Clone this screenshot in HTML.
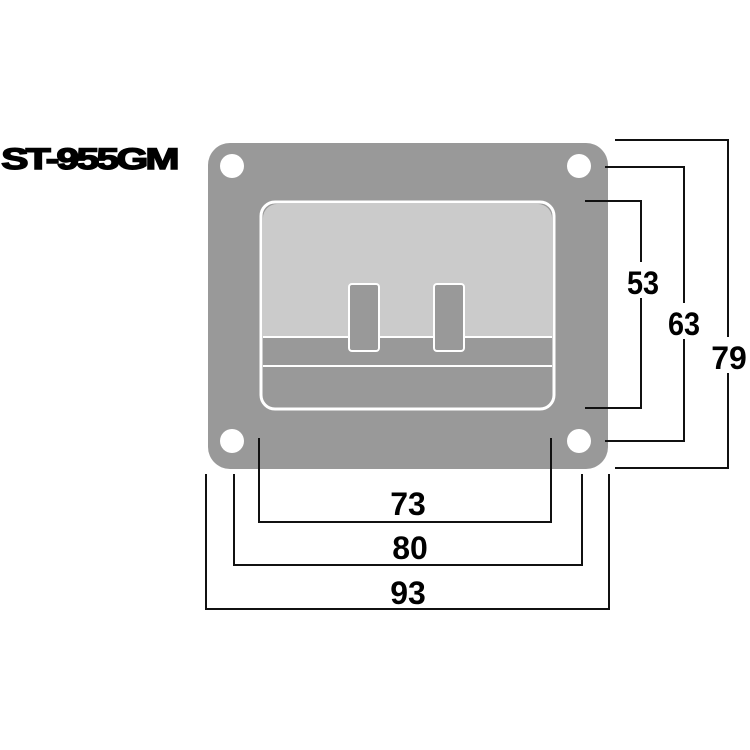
<!DOCTYPE html>
<html><head><style>body{margin:0;background:#fff}svg{display:block}</style></head><body>
<svg width="750" height="750" viewBox="0 0 750 750" xmlns="http://www.w3.org/2000/svg">
<rect x="208" y="143" width="400" height="326" rx="22" fill="#999"/>
<g fill="#fff"><circle cx="232" cy="166" r="12"/><circle cx="579" cy="166" r="12"/><circle cx="232" cy="441" r="12"/><circle cx="579" cy="441" r="12"/></g>
<rect x="261" y="202" width="293" height="207" rx="14" fill="#999" stroke="#fff" stroke-width="3"/>
<path d="M263 337 V218 a14 14 0 0 1 14 -14 H538 a14 14 0 0 1 14 14 V337 Z" fill="#cbcbcb"/>
<line x1="263" y1="337" x2="552" y2="337" stroke="#fff" stroke-width="2"/>
<line x1="263" y1="366" x2="552" y2="366" stroke="#fff" stroke-width="2"/>
<rect x="349" y="284" width="30" height="67" rx="3" fill="#999" stroke="#fff" stroke-width="2"/>
<rect x="434" y="284" width="30" height="67" rx="3" fill="#999" stroke="#fff" stroke-width="2"/>
<g fill="none" stroke="#111" stroke-width="2">
<path d="M585 201 H641 V408 H585"/>
<path d="M605 167 H684 V441 H605"/>
<path d="M615 140 H728 V468 H615"/>
<path d="M259 438 V522 H551 V438"/>
<path d="M234 474 V565 H582 V474"/>
<path d="M206 474 V609 H609 V474"/>
</g>
<g font-family="Liberation Sans, sans-serif" font-weight="bold" font-size="32" fill="#000" text-anchor="middle">
<rect x="622" y="262" width="42" height="36" fill="#fff"/><text x="643" y="294" transform="translate(643 0) scale(0.9 1) translate(-643 0)">53</text>
<rect x="664" y="303" width="40" height="36" fill="#fff"/><text x="684" y="335" transform="translate(684 0) scale(0.9 1) translate(-684 0)">63</text>
<rect x="707" y="337" width="43" height="36" fill="#fff"/><text x="729" y="369">79</text>
<text x="408" y="515">73</text>
<text x="410" y="559">80</text>
<text x="408" y="604">93</text>
<text x="89" y="169" font-size="30" stroke="#000" stroke-width="1.5" transform="translate(89 0) scale(1.36 1) translate(-89 0)" letter-spacing="-2">ST-955GM</text>
</g>
</svg>
</body></html>
